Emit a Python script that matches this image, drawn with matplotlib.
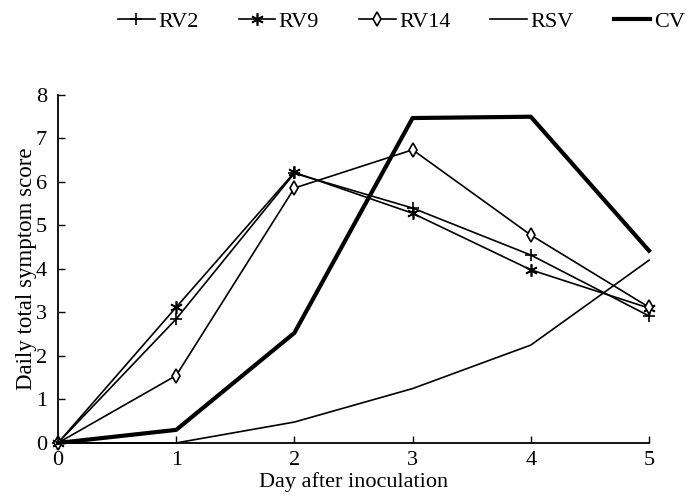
import matplotlib
matplotlib.use("Agg")
import matplotlib.pyplot as plt

days = [0, 1, 2, 3, 4, 5]
rv2 = [0, 2.85, 6.2, 5.4, 4.32, 2.92]
rv9 = [0, 3.12, 6.22, 5.28, 3.98, 3.1]
rv14 = [0, 1.55, 5.86, 6.74, 4.78, 3.12]
rsv = [0, 0, 0.48, 1.25, 2.25, 4.2]
cv = [0, 0.3, 2.53, 7.47, 7.5, 4.42]
series_names = ["RV2", "RV9", "RV14", "RSV", "CV"]
xticks = [0, 1, 2, 3, 4, 5]
yticks = [0, 1, 2, 3, 4, 5, 6, 7, 8]

plt.rcParams['font.family'] = ['Liberation Serif', 'DejaVu Serif']

fig = plt.figure(figsize=(6.87, 4.96), dpi=100)
ax = fig.add_axes([0.0844, 0.107, 0.8603, 0.7015])

ax.plot(days, rv2, color='black', lw=1.2, marker='+', ms=9, mew=1.2, label=series_names[0], clip_on=False)
ax.plot(days, rv9, color='black', lw=1.2, marker=(6, 2, 0), ms=9, mew=1.2, label=series_names[1], clip_on=False)
ax.plot(days, rv14, color='black', lw=1.2, marker='d', ms=7, mfc='white', mew=1.2, label=series_names[2], clip_on=False)
ax.plot(days, rsv, color='black', lw=1.2, label=series_names[3], clip_on=False)
ax.plot(days, cv, color='black', lw=3, label=series_names[4], clip_on=False)

ax.set_xlim(0, 5)
ax.set_ylim(0, 8)
ax.set_xticks(xticks)
ax.set_yticks(yticks)
ax.spines['top'].set_visible(False)
ax.spines['right'].set_visible(False)
ax.spines['left'].set_linewidth(1.3)
ax.spines['bottom'].set_linewidth(1.3)
ax.tick_params(direction='in', length=5, width=1, labelsize=16)
ax.tick_params(axis='x', pad=6)
ax.tick_params(axis='y', pad=8)
ax.set_xlabel("Day after inoculation", fontsize=16, labelpad=1)
ax.set_ylabel("Daily total symptom score", fontsize=16.5, labelpad=-1)

fig.legend(loc='upper left', bbox_to_anchor=(0.172, 0.977), ncol=5, frameon=False,
           fontsize=16, handlelength=1.65, handletextpad=0.15, columnspacing=1.8,
           borderpad=0, borderaxespad=0)

fig.savefig("out.png", dpi=100)
